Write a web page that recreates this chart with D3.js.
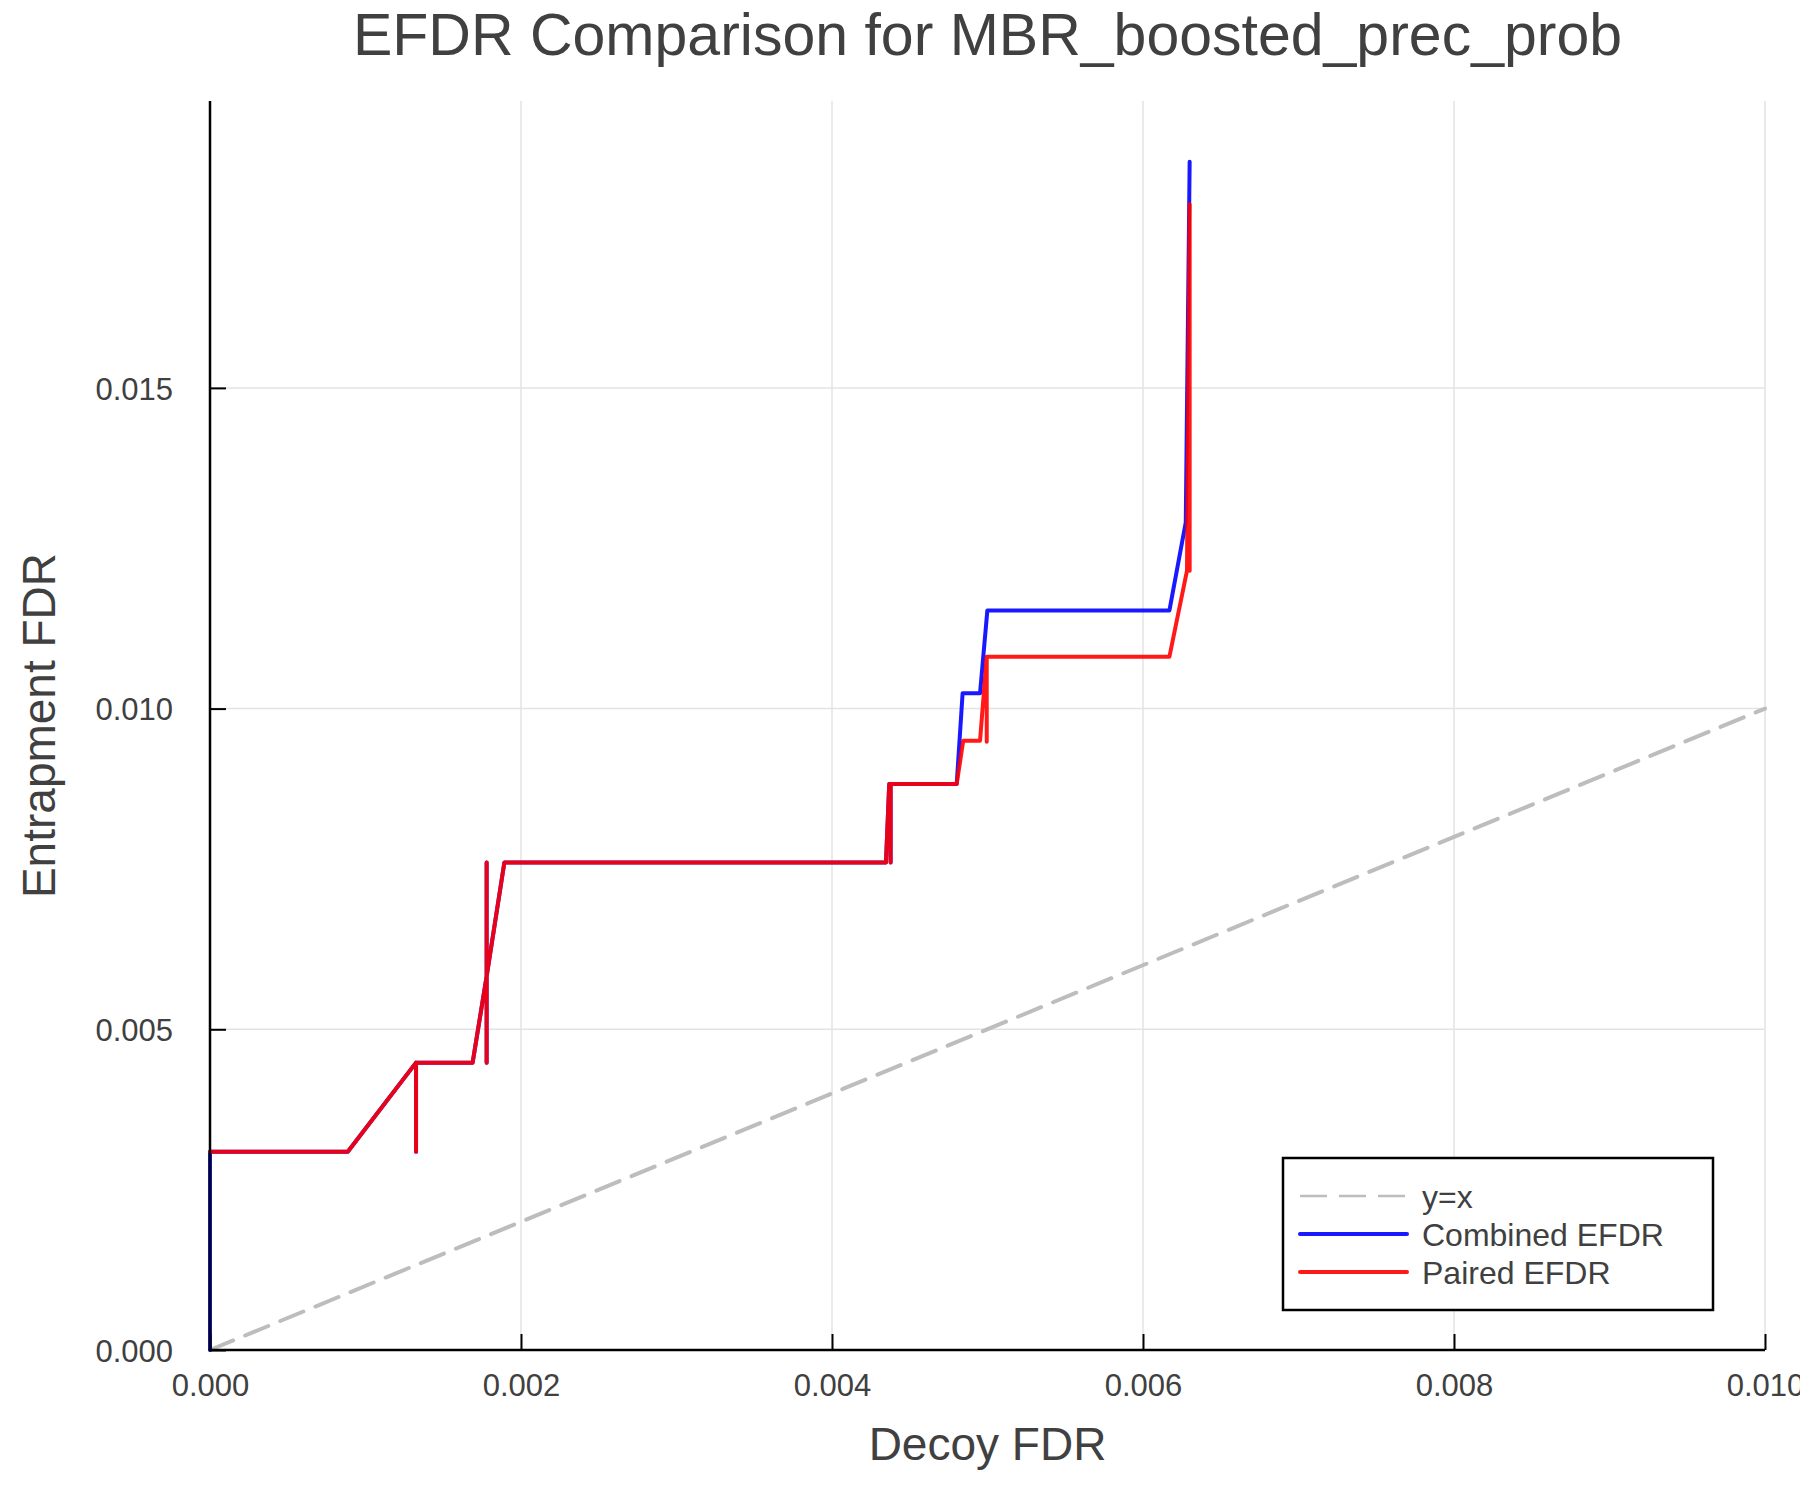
<!DOCTYPE html>
<html>

<head>
    <style>
        body {
            margin: 0;
            background: white;
        }

        text {
            font-family: "Liberation Sans", Helvetica, Arial, sans-serif;
            fill: #404040;
        }

        .grid line {
            stroke: #e3e3e3;
            stroke-width: 1.5;
        }

        .curve {
            fill: none;
            stroke-width: 4;
            stroke-linejoin: round;
            stroke-linecap: round;
        }
    </style>
    <script src="https://d3js.org/d3.v7.min.js"></script>
</head>

<body>
    <svg width="1800" height="1500"></svg>
    <script>
        // values
        var xTicks = [0.000, 0.002, 0.004, 0.006, 0.008, 0.010];
        var yTicks = [0.000, 0.005, 0.010, 0.015];

        var diagX = [0, 0.01];
        var diagY = [0, 0.01];

        var combinedX = [0, 0, 0.000886, 0.001325, 0.001325, 0.001325, 0.001689, 0.001779, 0.001779,
            0.001779, 0.001779, 0.001893, 0.004347, 0.004368, 0.004377, 0.004377, 0.004377, 0.004802,
            0.00484, 0.004952, 0.004999, 0.00617, 0.006275, 0.0063];
        var combinedY = [0, 0.00309, 0.00309, 0.00448, 0.00309, 0.00448, 0.00448, 0.005826, 0.0076,
            0.00448, 0.005826, 0.0076, 0.0076, 0.008825, 0.008825, 0.0076, 0.008825, 0.008825,
            0.01024, 0.01024, 0.01153, 0.01153, 0.012905, 0.018525];

        var pairedX = [0, 0.000886, 0.001325, 0.001325, 0.001325, 0.001689, 0.001779, 0.001779, 0.001779,
            0.001779, 0.001893, 0.004347, 0.004368, 0.004377, 0.004377, 0.004377, 0.004802, 0.004844,
            0.004952, 0.004995, 0.004995, 0.004995, 0.00617, 0.006283, 0.0063, 0.0063];
        var pairedY = [0.00309, 0.00309, 0.00448, 0.00309, 0.00448, 0.00448, 0.005826, 0.0076, 0.00448,
            0.005826, 0.0076, 0.0076, 0.008825, 0.008825, 0.0076, 0.008825, 0.008825, 0.0095,
            0.0095, 0.01081, 0.009484, 0.01081, 0.01081, 0.01215, 0.017863, 0.01215];

        var seriesNames = ["y=x", "Combined EFDR", "Paired EFDR"];

        var svg = d3.select("svg");

        svg.append("rect")
            .attr("width", 1800)
            .attr("height", 1500)
            .attr("fill", "white");

        var plotLeft = 210, plotRight = 1765, plotTop = 101, plotBottom = 1350;

        var xScale = d3.scaleLinear().domain([0, 0.01]).range([plotLeft, plotRight]),
            yScale = d3.scaleLinear().domain([0, 0.019473]).range([plotBottom, plotTop]);

        function zip(xs, ys) {
            return xs.map(function (x, i) {
                return [x, ys[i]];
            });
        }

        // grid
        var grid = svg.append("g").attr("class", "grid");
        grid.selectAll(".gx")
            .data(xTicks.slice(1))
            .enter().append("line")
            .attr("x1", function (d) { return xScale(d); })
            .attr("x2", function (d) { return xScale(d); })
            .attr("y1", plotTop)
            .attr("y2", plotBottom);
        grid.selectAll(".gy")
            .data(yTicks.slice(1))
            .enter().append("line")
            .attr("x1", plotLeft)
            .attr("x2", plotRight)
            .attr("y1", function (d) { return yScale(d); })
            .attr("y2", function (d) { return yScale(d); });

        var line = d3.line()
            .x(function (d) { return xScale(d[0]); })
            .y(function (d) { return yScale(d[1]); });

        svg.append("path")
            .datum(zip(diagX, diagY))
            .attr("class", "curve")
            .attr("d", line)
            .attr("stroke", "#bdbdbd")
            .attr("stroke-width", 2.5)
            .attr("stroke-linecap", "butt")
            .attr("stroke-dasharray", "25,13");

        svg.append("path")
            .datum(zip(combinedX, combinedY))
            .attr("class", "curve")
            .attr("d", line)
            .attr("stroke", "rgb(0,0,255)")
            .attr("stroke-opacity", 0.9);

        svg.append("path")
            .datum(zip(pairedX, pairedY))
            .attr("class", "curve")
            .attr("d", line)
            .attr("stroke", "rgb(255,0,0)")
            .attr("stroke-opacity", 0.9);

        // axes
        var xAxis = d3.axisBottom(xScale)
            .tickValues(xTicks)
            .tickSize(-16)
            .tickFormat(d3.format(".3f"));
        var gx = svg.append("g")
            .attr("transform", "translate(0," + plotBottom + ")")
            .call(xAxis);
        gx.select(".domain").remove();
        gx.selectAll(".tick line").attr("stroke", "black").attr("stroke-width", 2);
        gx.selectAll(".tick text")
            .attr("fill", "#404040")
            .attr("font-size", "31px")
            .attr("y", 46)
            .attr("dy", 0);

        var yAxis = d3.axisLeft(yScale)
            .tickValues(yTicks)
            .tickSize(-16)
            .tickFormat(d3.format(".3f"));
        var gy = svg.append("g")
            .attr("transform", "translate(" + plotLeft + ",0)")
            .call(yAxis);
        gy.select(".domain").remove();
        gy.selectAll(".tick line").attr("stroke", "black").attr("stroke-width", 2);
        gy.selectAll(".tick text")
            .attr("fill", "#404040")
            .attr("font-size", "31px")
            .attr("x", -37)
            .attr("dy", "0.36em");

        svg.append("line")
            .attr("x1", plotLeft).attr("x2", plotLeft)
            .attr("y1", plotTop).attr("y2", plotBottom + 1)
            .attr("stroke", "black").attr("stroke-width", 2.5);
        svg.append("line")
            .attr("x1", plotLeft - 1).attr("x2", plotRight)
            .attr("y1", plotBottom).attr("y2", plotBottom)
            .attr("stroke", "black").attr("stroke-width", 2.5);

        // titles
        svg.append("text")
            .attr("x", (plotLeft + plotRight) / 2)
            .attr("y", 55)
            .attr("text-anchor", "middle")
            .attr("font-size", "59px")
            .text("EFDR Comparison for MBR_boosted_prec_prob");

        svg.append("text")
            .attr("x", (plotLeft + plotRight) / 2)
            .attr("y", 1460)
            .attr("text-anchor", "middle")
            .attr("font-size", "46px")
            .text("Decoy FDR");

        svg.append("text")
            .attr("transform", "translate(55," + (plotTop + plotBottom) / 2 + ") rotate(-90)")
            .attr("text-anchor", "middle")
            .attr("font-size", "46px")
            .text("Entrapment FDR");

        // legend
        var legend = svg.append("g");
        legend.append("rect")
            .attr("x", 1283)
            .attr("y", 1158)
            .attr("width", 430)
            .attr("height", 152)
            .attr("fill", "white")
            .attr("stroke", "black")
            .attr("stroke-width", 2.5);

        var legendStyles = [
            { color: "#bdbdbd", width: 2.5, dash: "27,12", opacity: 1 },
            { color: "rgb(0,0,255)", width: 4, dash: null, opacity: 0.9 },
            { color: "rgb(255,0,0)", width: 4, dash: null, opacity: 0.9 }
        ];

        seriesNames.forEach(function (name, i) {
            var y = 1196 + i * 38;
            var s = legendStyles[i];
            legend.append("line")
                .attr("x1", 1300).attr("x2", 1407)
                .attr("y1", y).attr("y2", y)
                .attr("stroke", s.color)
                .attr("stroke-width", s.width)
                .attr("stroke-opacity", s.opacity)
                .attr("stroke-linecap", s.dash ? "butt" : "round")
                .attr("stroke-dasharray", s.dash);
            legend.append("text")
                .attr("x", 1422)
                .attr("y", y + 12)
                .attr("font-size", "32px")
                .text(name);
        });
    </script>
</body>

</html>
